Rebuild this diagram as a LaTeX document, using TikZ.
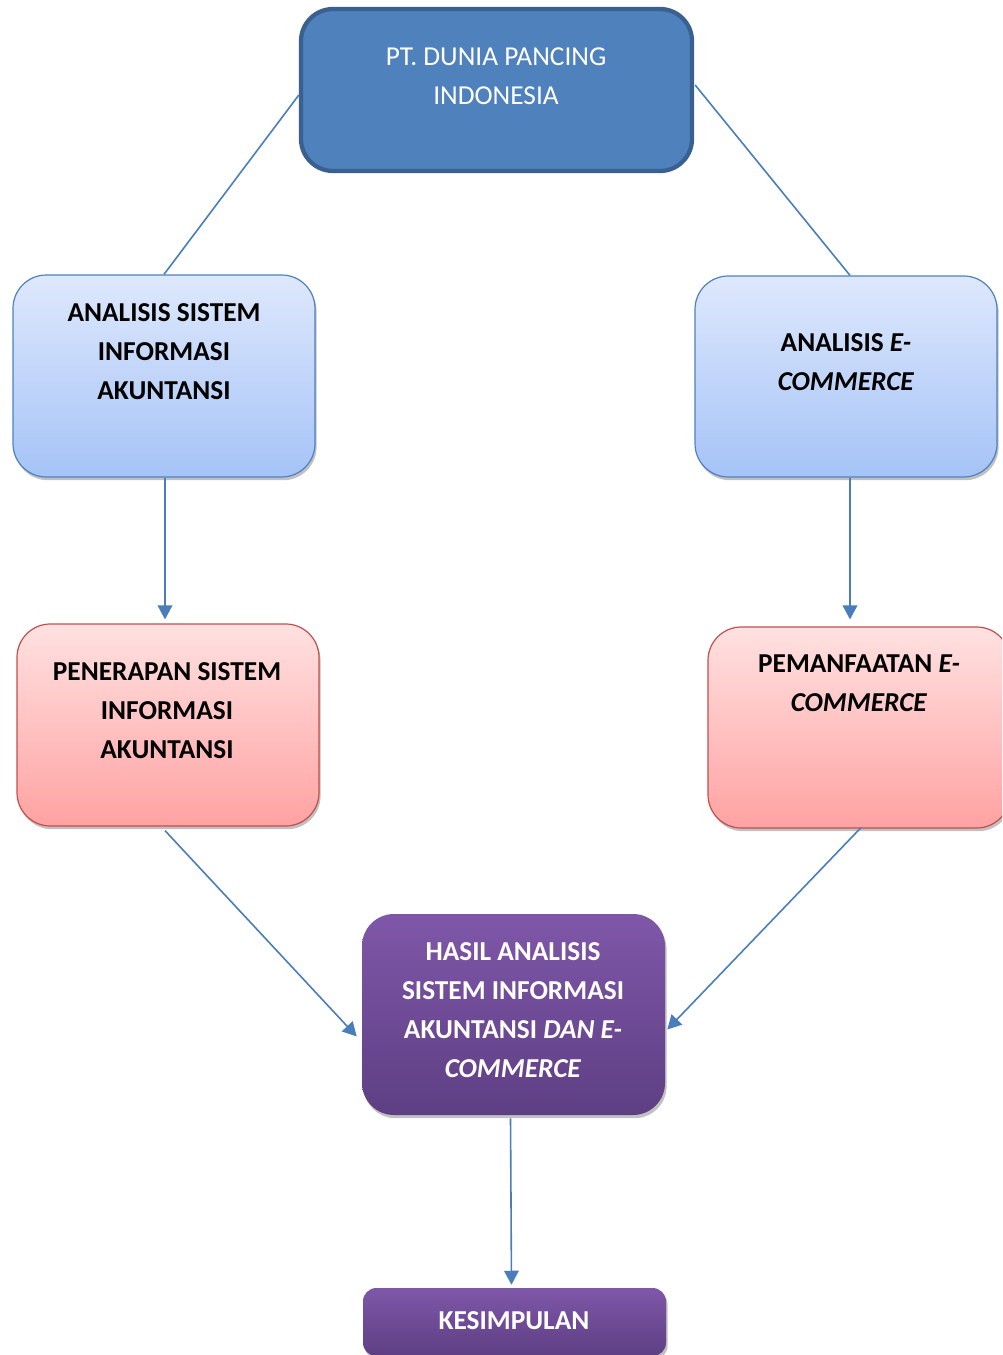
\documentclass[tikz,border=0pt]{standalone}
\usepackage{fontspec}
\setmainfont{Carlito}
\usetikzlibrary{shadows,arrows.meta,calc}
\definecolor{topfill}{HTML}{4F81BD}
\definecolor{topdraw}{HTML}{3A6090}
\definecolor{bluetop}{HTML}{DEE8FC}
\definecolor{bluebot}{HTML}{A5C3F7}
\definecolor{blueedge}{HTML}{4F81BD}
\definecolor{pinktop}{HTML}{FFE1E1}
\definecolor{pinkbot}{HTML}{FFA2A2}
\definecolor{pinkedge}{HTML}{C0504D}
\definecolor{purptop}{HTML}{7F57A9}
\definecolor{purpbot}{HTML}{5E3F83}
\definecolor{linkcol}{HTML}{4A7EBB}
\begin{document}
\begin{tikzpicture}[x=0.75pt,y=-0.75pt,
  shad/.style={drop shadow={shadow xshift=1.2pt,shadow yshift=-2.4pt,opacity=0.35,fill=black!70}},
  topbox/.style={draw=topdraw,line width=3.2pt,fill=topfill,rounded corners=24pt,inner sep=0pt},
  bluebox/.style={shad,draw=blueedge,line width=0.9pt,top color=bluetop,bottom color=bluebot,rounded corners=25pt,inner sep=0pt},
  pinkbox/.style={shad,draw=pinkedge,line width=0.9pt,top color=pinktop,bottom color=pinkbot,rounded corners=25pt,inner sep=0pt},
  purpbox/.style={shad,draw=none,top color=purptop,bottom color=purpbot,rounded corners=24pt,inner sep=0pt},
  kesbox/.style={shad,draw=none,top color=purptop,bottom color=purpbot,rounded corners=10pt,inner sep=0pt},
  txt/.style={align=center,inner sep=0pt,font=\fontsize{20.5}{29.25}\selectfont\bfseries},
  link/.style={draw=linkcol,line width=1.2pt},
  arr/.style={link,-{Triangle[length=10.5pt,width=11pt]}}
]
\useasboundingbox (0,0) rectangle (1002,1355);
\clip (0,0) rectangle (1002,1355);

% boxes
\node[topbox,minimum width=391*0.75pt,minimum height=162*0.75pt] (top) at (496.5,90) {};
\node[bluebox,minimum width=302*0.75pt,minimum height=202*0.75pt] (asia) at (164,376) {};
\node[bluebox,minimum width=302*0.75pt,minimum height=201*0.75pt] (aec) at (846,376.5) {};
\node[pinkbox,minimum width=302*0.75pt,minimum height=202*0.75pt] (pasia) at (168,725) {};
\node[pinkbox,minimum width=302*0.75pt,minimum height=201*0.75pt] (pec) at (859,727.5) {};
\node[purpbox,minimum width=303*0.75pt,minimum height=201*0.75pt] (hasil) at (513.5,1014.5) {};
\node[kesbox,minimum width=303*0.75pt,minimum height=68*0.75pt] (kes) at (514.5,1322) {};

% texts
\node[txt,font=\fontsize{20.5}{29.25}\selectfont,text=white] (topt) at (496,76.5) {PT. DUNIA PANCING\\INDONESIA};
\node[txt] (asiat) at (164,351.5) {ANALISIS SISTEM\\INFORMASI\\AKUNTANSI};
\node[txt] (aect) at (846,362.5) {ANALISIS \textit{E-}\\\textit{COMMERCE}};
\node[txt] (pasiat) at (167,710.5) {PENERAPAN SISTEM\\INFORMASI\\AKUNTANSI};
\node[txt] (pect) at (859,683.5) {PEMANFAATAN \textit{E-}\\\textit{COMMERCE}};
\node[txt,text=white] (hasilt) at (513,1010.5) {HASIL ANALISIS\\SISTEM INFORMASI\\AKUNTANSI \textit{DAN E-}\\\textit{COMMERCE}};
\node[txt,text=white] (kest) at (514,1321) {KESIMPULAN};

% connectors
\draw[link] ($(top.west)+(0,5)$) -- (asia.north);
\draw[link] ($(top.east)+(1,-5)$) -- ($(aec.north)+(4,0)$);
\draw[arr] ($(asia.south)+(1,0)$) -- ($(asia.south |- pasia.north)+(1,-4)$);
\draw[arr] ($(aec.south)+(4,0)$) -- ($(aec.south |- pec.north)+(4,-7)$);
\draw[arr] ($(pasia.south)+(-3,4)$) -- ($(hasil.west)+(-5,22)$);
\draw[arr] ($(pec.south)+(2,-1)$) -- ($(hasil.east)+(2,15)$);
\draw[arr] ($(hasil.south)+(-3,3)$) -- ($(kes.north)+(-3,-3)$);
\end{tikzpicture}
\end{document}
